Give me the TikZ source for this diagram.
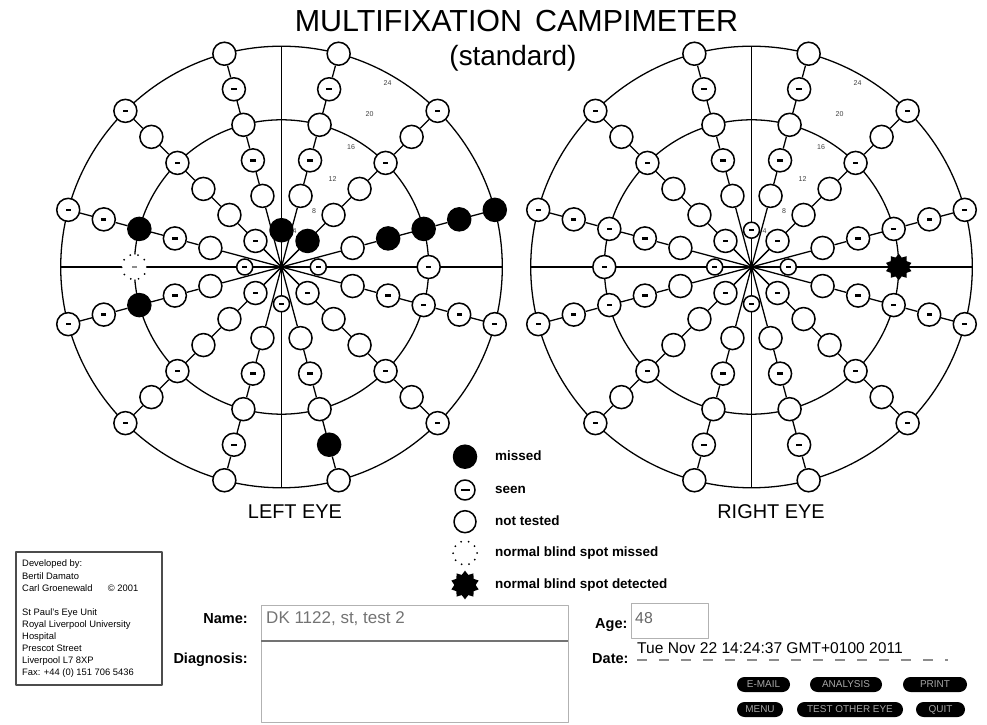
\documentclass[tikz,border=0pt]{standalone}
\usepackage{fontspec}
\setmainfont{Liberation Sans}
\usetikzlibrary{shapes.geometric}
\pgfdeclarelayer{back}
\pgfsetlayers{back,main}

\tikzset{
  spot/.style={circle, draw, line width=1.3pt, fill=white, minimum size=6.9mm, inner sep=0pt},
  dashmark/.style={path picture={\fill[#1] ([xshift=-0.8mm,yshift=-0.35mm]path picture bounding box.center) rectangle ([xshift=0.8mm,yshift=0.35mm]path picture bounding box.center);}},
  dashmark/.default=black,
  notest/.style={spot},
  seen/.style={spot, dashmark},
  seensm/.style={seen, minimum size=4.8mm},
  missed/.style={spot, fill=black},
  bsmiss/.style={circle, minimum size=7.6mm, inner sep=0pt, fill=white, draw, line width=1.7pt, line cap=round, dash pattern=on 0pt off 2.387mm},
  bsmissd/.style={bsmiss, dashmark=black!45},
  bsdet/.style={star, star points=10, star point ratio=1.35, fill=black, minimum size=8mm, inner sep=0pt},
  ring/.style={line width=1.1pt},
  ecc/.style={font=\fontsize{6}{6}\selectfont, text=black!75, inner sep=0pt},
  lgd/.style={anchor=base west, inner sep=0pt, font=\fontsize{11.5}{12}\bfseries\selectfont},
  lbl/.style={inner sep=0pt, font=\fontsize{12.4}{13}\bfseries\selectfont},
  btn/.style={fill=black, text=black!35, rounded corners=2.25mm, minimum height=4.5mm, inner sep=0pt, font=\fontsize{8.5}{9}\selectfont},
  field/.style={draw=black!30, line width=0.8pt},
  seenlg/.style={spot, minimum size=6mm, path picture={\fill[black] ([xshift=-1.35mm,yshift=-0.4mm]path picture bounding box.center) rectangle ([xshift=1.35mm,yshift=0.4mm]path picture bounding box.center);}},
  notestlg/.style={notest, minimum size=6.6mm},
  bsmisslg/.style={bsmiss, minimum size=7.2mm, dash pattern=on 0pt off 2.262mm},
  bsdetlg/.style={bsdet, minimum size=8.6mm},
}

\newcommand{\campfield}[5]{%
\begin{scope}[shift={#2}]
  \coordinate (#1) at (0,0);
  \begin{pgfonlayer}{back}
    \draw[ring] (0,0) circle[radius=16*\du] circle[radius=24*\du];
    \draw[ring] (-24*\du,0) -- (24*\du,0) (0,-24*\du) -- (0,24*\du);
  \end{pgfonlayer}
  \foreach \a/\qa/\qb/\qc/\qd/\qe in {#3}{
    \foreach \e/\kind in {8/\qa,12/\qb,16/\qc,20/\qd,24/\qe}
      \node[\kind] (#1\a-\e) at (\a:\e*\du) {};
    \begin{pgfonlayer}{back}
      \draw[ring] (#1) -- (#1\a-8) -- (#1\a-12) -- (#1\a-16) -- (#1\a-20) -- (#1\a-24);
    \end{pgfonlayer}
  }
  \foreach \a/\kind in {#4}{
    \node[\kind] (#1\a-4) at (\a:4*\du) {};
    \begin{pgfonlayer}{back}\draw[ring] (#1) -- (#1\a-4);\end{pgfonlayer}
  }
  \foreach \a/\kind in {#5} \node[\kind] (#1\a-16) at (\a:16*\du) {};
  \foreach \e/\a/\r in {4/70/38, 8/60/65, 12/60/102, 16/60/139, 20/60/176, 24/60/212}
    \node[ecc] (#1lab\e) at (\a:\r) {\e};
\end{scope}}

\begin{document}
\begin{tikzpicture}[x=0.3mm, y=0.3mm, line join=round]
\def\du{9.2}
\useasboundingbox (0,0) rectangle (987,724);

\node[font=\fontsize{26}{30}\selectfont, anchor=base] (title) at (516.5,692) {MULTIFIXATION\hspace{3.9mm}CAMPIMETER};
\node[font=\fontsize{23.8}{28}\selectfont, anchor=base] (subtitle) at (513,658) {(standard)};

\campfield{L}{(281.5,457)}{15/notest/missed/missed/missed/missed, 45/notest/notest/seen/notest/seen,
  75/notest/seen/notest/seen/notest, 105/notest/seen/notest/seen/notest, 135/notest/notest/seen/notest/seen,
  165/notest/seen/missed/seen/seen, 195/notest/seen/missed/seen/seen, 225/notest/notest/seen/notest/seen,
  255/notest/seen/notest/seen/notest, 285/notest/seen/notest/missed/notest, 315/notest/notest/seen/notest/seen,
  345/notest/seen/seen/seen/seen}{0/seensm, 45/missed, 90/missed, 135/seen, 180/seensm, 225/seen, 270/seensm, 315/seen}{0/seen, 180/bsmissd}

\campfield{R}{(751.5,457)}{15/notest/seen/seen/seen/seen, 45/notest/notest/seen/notest/seen,
  75/notest/seen/notest/seen/notest, 105/notest/seen/notest/seen/notest, 135/notest/notest/seen/notest/seen,
  165/notest/seen/seen/seen/seen, 195/notest/seen/seen/seen/seen, 225/notest/notest/seen/notest/seen,
  255/notest/seen/notest/seen/notest, 285/notest/seen/notest/seen/notest, 315/notest/notest/seen/notest/seen,
  345/notest/seen/seen/seen/seen}{0/seensm, 45/seen, 90/seensm, 135/seen, 180/seensm, 225/seen, 270/seensm, 315/seen}{0/bsdet, 180/seen}

\node[font=\fontsize{17}{20}\selectfont, anchor=base] (lefteye) at (295,205) {LEFT EYE};
\node[font=\fontsize{17}{20}\selectfont, anchor=base] (righteye) at (771,205) {RIGHT EYE};

\foreach \y/\kind/\txt [count=\i] in {267.3/missed/missed, 234/seenlg/seen, 202.3/notestlg/not tested,
    171/bsmisslg/normal blind spot missed, 139/bsdetlg/normal blind spot detected}{
  \node[\kind] (key\i) at (465,\y) {};
  \node[lgd] (keytxt\i) at (495,\y-3.4) {\txt};
}

\draw[draw=black!70, line width=1.2pt] (16,39) rectangle (162,172);
\foreach \y/\txt [count=\i] in {157.5/Developed by:, 144.5/Bertil Damato, 132.5/Carl Groenewald\hspace{4.6mm}© 2001,
    108.5/St Paul's Eye Unit, 96.5/Royal Liverpool University, 84.5/Hospital, 72.5/Prescot Street,
    60.5/Liverpool L7 8XP, 48.5/Fax: +44 (0) 151 706 5436}
  \node[anchor=base west, inner sep=0pt, font=\fontsize{8}{9}\selectfont] (info\i) at (22,\y) {\txt};

\node[lbl, anchor=base east] (namelbl) at (248,100) {Name:};
\node[lbl, anchor=base east] (diaglbl) at (248,61) {Diagnosis:};
\draw[field] (261,83) rectangle (568,119);
\draw[field] (261,2) rectangle (568,83);
\draw[black!55, line width=1pt] (261,83) -- (568,83);
\node[anchor=base west, inner sep=0pt, font=\fontsize{14.5}{16}\selectfont, text=black!55] (name) at (266,100) {DK 1122, st, test 2};

\node[lbl, anchor=base west] (agelbl) at (595,95) {Age:};
\draw[field] (631,86) rectangle (708,121);
\node[anchor=base west, inner sep=0pt, font=\fontsize{13.5}{15}\selectfont, text=black!60] (age) at (635,101) {48};
\node[lbl, anchor=base west] (datelbl) at (592,61) {Date:};
\node[anchor=base west, inner sep=0pt, font=\fontsize{13.3}{15}\selectfont] (date) at (637,71) {Tue Nov 22 14:24:37 GMT+0100 2011};
\draw[black!45, line width=1pt, dash pattern=on 3mm off 3.6mm] (637,64) -- (948,64);

\foreach \x/\y/\w/\txt [count=\i] in {763.5/39.5/15.9/E-MAIL, 846/39.5/21.6/ANALYSIS, 935/39.5/19.2/PRINT,
    760/14.5/13.8/MENU, 850/14.5/31.8/TEST OTHER EYE, 940.5/14.5/14.7/QUIT}
  \node[btn, minimum width=\w mm] (btn\i) at (\x,\y) {\txt};
\end{tikzpicture}
\end{document}
